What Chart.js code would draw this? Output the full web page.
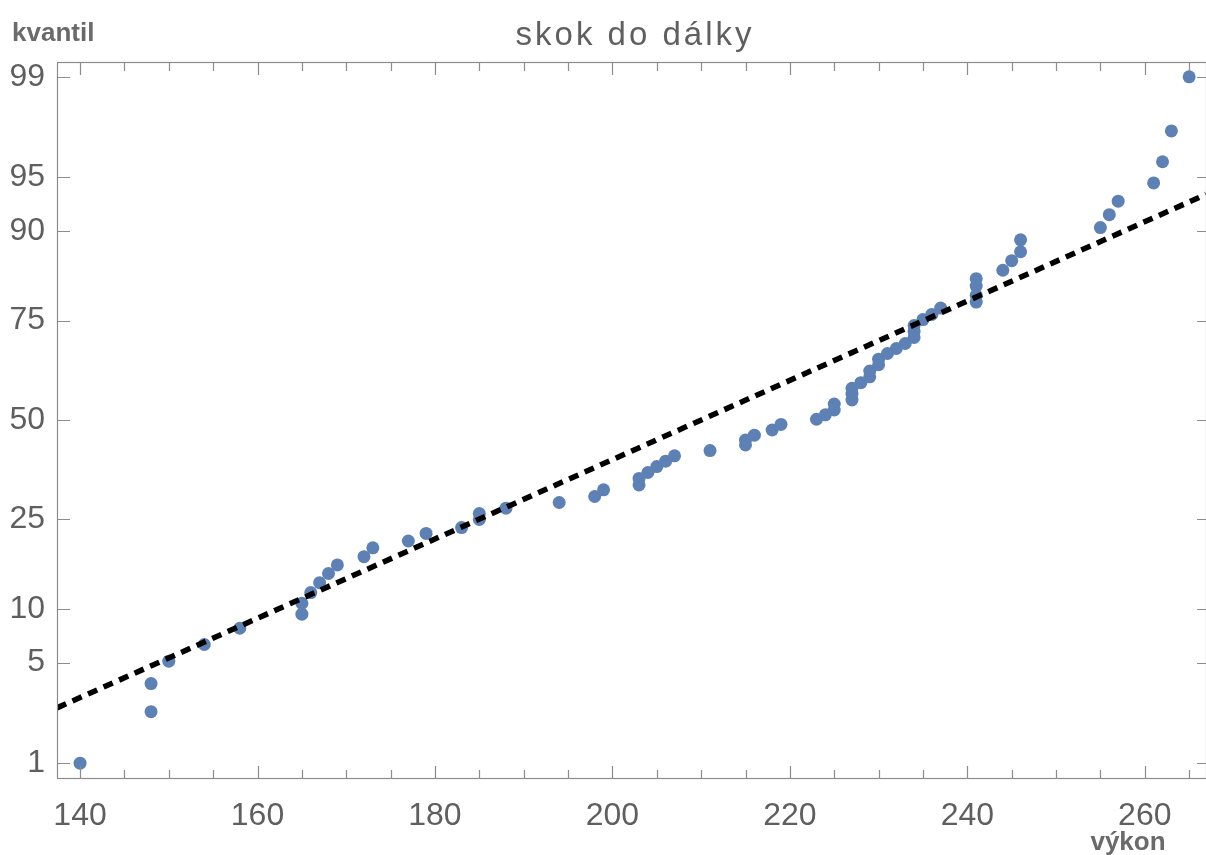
<!DOCTYPE html>
<html>
<head>
<meta charset="utf-8">
<title>skok do dálky</title>
<script src="https://cdn.jsdelivr.net/npm/chart.js@4/dist/chart.umd.min.js"></script>
<style>
  body { margin: 0; background: #fff; }
  #plot { display: block; }
</style>
</head>
<body>
<canvas id="plot" width="1206" height="855"></canvas>
<script>
// Long jump results (cm) and their plotted quantile (%)
const jumpLengths = [140, 148, 148, 150, 154, 158, 165, 165, 166, 167,
  168, 169, 172, 173, 177, 179, 183, 185, 185, 188,
  194, 198, 199, 203, 203, 204, 205, 206, 207, 211,
  215, 215, 216, 218, 219, 223, 224, 225, 225, 227,
  227, 227, 228, 229, 229, 230, 230, 231, 232, 233,
  234, 234, 234, 235, 236, 237, 241, 241, 241, 241,
  244, 245, 246, 246, 255, 256, 257, 261, 262, 263, 265];
const quantiles = [1.0, 2.4, 3.7, 5.1, 6.4, 7.9, 9.4, 10.7, 12.1, 13.5,
  14.9, 16.3, 17.7, 19.3, 20.6, 22.1, 23.3, 25.0, 26.3, 27.5,
  28.8, 30.2, 31.8, 33.0, 34.6, 36.1, 37.6, 39.0, 40.4, 41.8,
  43.3, 44.6, 45.9, 47.3, 48.8, 50.2, 51.4, 52.7, 54.3, 55.4,
  57.0, 58.5, 60.0, 61.5, 63.0, 64.6, 66.0, 67.4, 68.6, 69.8,
  71.2, 72.6, 73.9, 75.2, 76.3, 77.6, 78.8, 80.1, 81.8, 83.1,
  84.5, 86.0, 87.3, 88.9, 90.4, 91.8, 93.1, 94.6, 96.0, 97.5, 99.0];

// fitted normal distribution (dotted line)
const fitMean = 210;
const fitSd = 37.2;

const xTickLabels = [140, 160, 180, 200, 220, 240, 260];
const yTickLabels = [1, 5, 10, 25, 50, 75, 90, 95, 99];

const xMin = 137.4, xMax = 266.9;
const zLimit = 2.427;

// inverse of the standard normal CDF (Acklam)
function probit(p) {
  const a = [-39.69683028665376, 220.9460984245205, -275.9285104469687, 138.3577518672690, -30.66479806614716, 2.506628277459239];
  const b = [-54.47609879822406, 161.5858368580409, -155.6989798598866, 66.80131188771972, -13.28068155288572];
  const c = [-0.007784894002430293, -0.3223964580411365, -2.400758277161838, -2.549732539343734, 4.374664141464968, 2.938163982698783];
  const d = [0.007784695709041462, 0.3224671290700398, 2.445134137142996, 3.754408661907416];
  const pLow = 0.02425;
  let q, r;
  if (p < pLow) {
    q = Math.sqrt(-2 * Math.log(p));
    return (((((c[0]*q+c[1])*q+c[2])*q+c[3])*q+c[4])*q+c[5]) / ((((d[0]*q+d[1])*q+d[2])*q+d[3])*q+1);
  }
  if (p <= 1 - pLow) {
    q = p - 0.5;
    r = q * q;
    return (((((a[0]*r+a[1])*r+a[2])*r+a[3])*r+a[4])*r+a[5])*q / (((((b[0]*r+b[1])*r+b[2])*r+b[3])*r+b[4])*r+1);
  }
  q = Math.sqrt(-2 * Math.log(1 - p));
  return -(((((c[0]*q+c[1])*q+c[2])*q+c[3])*q+c[4])*q+c[5]) / ((((d[0]*q+d[1])*q+d[2])*q+d[3])*q+1);
}

const points = jumpLengths.map((v, i) => ({ x: v, y: probit(quantiles[i] / 100) }));
const fitLine = [xMin, xMax].map(v => ({ x: v, y: (v - fitMean) / fitSd }));

const labelColor = '#5f5f5f';
const frameColor = '#8c8c8c';

// frame with inward ticks, title and axis names
const framePlugin = {
  id: 'frame',
  afterDraw(chart) {
    const ctx = chart.ctx;
    const area = chart.chartArea;
    const xs = chart.scales.x;
    const ys = chart.scales.y;
    ctx.save();
    ctx.strokeStyle = frameColor;
    ctx.lineWidth = 1.2;
    ctx.strokeRect(area.left + 0.5, area.top + 0.5, area.right - area.left, area.bottom - area.top);

    ctx.beginPath();
    for (let v = 140; v <= 265; v += 5) {
      const px = Math.round(xs.getPixelForValue(v)) + 0.5;
      const len = v % 20 === 0 ? 12 : 8;
      ctx.moveTo(px, area.bottom);
      ctx.lineTo(px, area.bottom - len);
      ctx.moveTo(px, area.top);
      ctx.lineTo(px, area.top + len + 1);
    }
    yTickLabels.forEach(p => {
      const py = Math.round(ys.getPixelForValue(probit(p / 100))) + 0.5;
      ctx.moveTo(area.left, py);
      ctx.lineTo(area.left + 13, py);
      ctx.moveTo(area.right, py);
      ctx.lineTo(area.right - 9, py);
    });
    ctx.stroke();

    ctx.fillStyle = labelColor;
    ctx.textBaseline = 'alphabetic';
    ctx.font = '33px "Liberation Sans", Arial, sans-serif';
    ctx.textAlign = 'center';
    if ('letterSpacing' in ctx) ctx.letterSpacing = '3px';
    ctx.fillText('skok do dálky', 635, 45);
    if ('letterSpacing' in ctx) ctx.letterSpacing = '0px';

    ctx.fillStyle = '#6a6a6a';
    ctx.font = 'bold 26px "Liberation Sans", Arial, sans-serif';
    ctx.textAlign = 'left';
    ctx.fillText('kvantil', 12, 41);
    ctx.textAlign = 'center';
    ctx.fillText('výkon', 1128, 850);
    ctx.restore();
  }
};

Chart.defaults.font.family = '"Liberation Sans", Arial, sans-serif';

new Chart(document.getElementById('plot'), {
  type: 'scatter',
  data: {
    datasets: [{
      label: 'výkon',
      data: points,
      pointRadius: 6.5,
      pointHoverRadius: 6.5,
      borderWidth: 0,
      backgroundColor: '#5e81b5',
      order: 2
    }, {
      type: 'line',
      label: 'normální rozdělení',
      data: fitLine,
      borderColor: '#000',
      borderWidth: 5.5,
      borderDash: [10, 7],
      pointRadius: 0,
      fill: false,
      order: 1
    }]
  },
  options: {
    responsive: false,
    animation: false,
    devicePixelRatio: 1,
    layout: { autoPadding: false, padding: { top: 62, right: 0, bottom: 0, left: 0 } },
    plugins: {
      legend: { display: false },
      tooltip: { enabled: false }
    },
    scales: {
      x: {
        type: 'linear',
        min: xMin,
        max: xMax,
        grid: { display: false, drawTicks: false },
        border: { display: false },
        afterBuildTicks: scale => { scale.ticks = xTickLabels.map(v => ({ value: v })); },
        afterFit: scale => { scale.height = 77; },
        ticks: {
          color: labelColor,
          font: { size: 32 },
          padding: 19,
          maxRotation: 0,
          autoSkip: false
        }
      },
      y: {
        type: 'linear',
        min: -zLimit,
        max: zLimit,
        grid: { display: false, drawTicks: false },
        border: { display: false },
        afterBuildTicks: scale => { scale.ticks = yTickLabels.map(p => ({ value: probit(p / 100) })); },
        afterFit: scale => { scale.width = 57; },
        ticks: {
          color: labelColor,
          font: { size: 32 },
          padding: 12,
          autoSkip: false,
          callback: (value, index) => yTickLabels[index]
        }
      }
    }
  },
  plugins: [framePlugin]
});
</script>
</body>
</html>
